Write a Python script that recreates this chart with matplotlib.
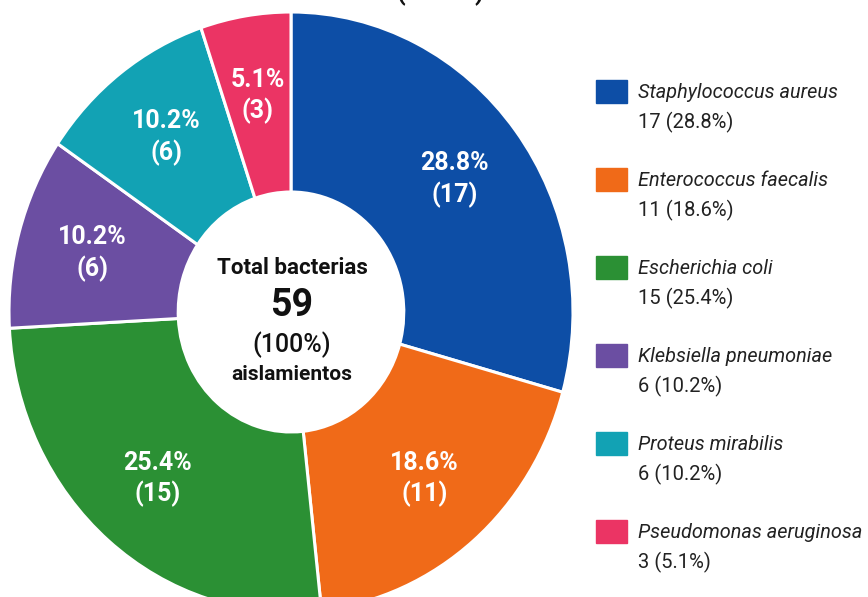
import matplotlib
matplotlib.use('Agg')
from matplotlib import pyplot
from matplotlib.patches import Rectangle

pyplot.rcParams['font.family'] = ['Roboto', 'DejaVu Sans']

species = ['Staphylococcus aureus', 'Enterococcus faecalis', 'Escherichia coli',
           'Klebsiella pneumoniae', 'Proteus mirabilis', 'Pseudomonas aeruginosa']
counts = [17, 11, 15, 6, 6, 3]
percents = ['28.8%', '18.6%', '25.4%', '10.2%', '10.2%', '5.1%']
colors = ['#0D4EA6', '#F06A18', '#2B9034', '#6B4EA2', '#12A2B4', '#EB3464']
total = 59  # as printed in the chart

W, H = 868, 597
fig = pyplot.figure(figsize=(W / 100, H / 100), dpi=100)

# pie center / radii in pixels (slightly elliptical like the reference)
cx, cy, rx, ry = 291, 312, 282, 300
ax = fig.add_axes([(cx - rx) / W, (H - cy - ry) / H, 2 * rx / W, 2 * ry / H])

wedges, texts = ax.pie(counts, colors=colors, startangle=90, counterclock=False,
                       labels=['{}\n({})'.format(p, n) for p, n in zip(percents, counts)],
                       labeldistance=0.73,
                       wedgeprops=dict(width=0.6, edgecolor='white', linewidth=2.2),
                       textprops=dict(color='white', fontsize=18, fontweight='bold',
                                      linespacing=1.3))
for t in texts:
    t.set_horizontalalignment('center')
    t.set_verticalalignment('center')
ax.set_aspect('auto')
ax.set_xlim(-1, 1)
ax.set_ylim(-1, 1)
ax.axis('off')


def px(x, y):
    return (x - cx) / rx, (cy - y) / ry


ax.text(*px(292, 268), 'Total bacterias', ha='center', va='center', fontsize=16,
        fontweight='bold', color='#111111')
ax.text(*px(292, 305), str(total), ha='center', va='center', fontsize=27,
        fontweight='bold', color='#111111')
ax.text(*px(292, 345), '(100%)', ha='center', va='center', fontsize=18,
        fontweight='medium', color='#111111')
ax.text(*px(292, 374), 'aislamientos', ha='center', va='center', fontsize=15,
        fontweight='bold', color='#111111')

# legend drawn in pixel coordinates
lg = fig.add_axes([0, 0, 1, 1])
lg.set_xlim(0, W)
lg.set_ylim(H, 0)
lg.axis('off')
lg.patch.set_alpha(0)
for i, name in enumerate(species):
    y = 92 + 88 * i
    lg.add_patch(Rectangle((596, y - 12), 31, 23, color=colors[i]))
    lg.text(638, y, name, style='italic', fontsize=14.3, color='#222222', va='center', ha='left')
    lg.text(638, y + 30, '{} ({})'.format(counts[i], percents[i]), fontsize=14.5,
            color='#222222', va='center', ha='left')

# title cut off at the top of the picture
fig.text(440 / W, 1 - 0.5 / H, '(n = 59)', ha='center', va='baseline', fontsize=18,
         fontweight='bold', color='#111111')

pyplot.savefig('out.png', dpi=100)
